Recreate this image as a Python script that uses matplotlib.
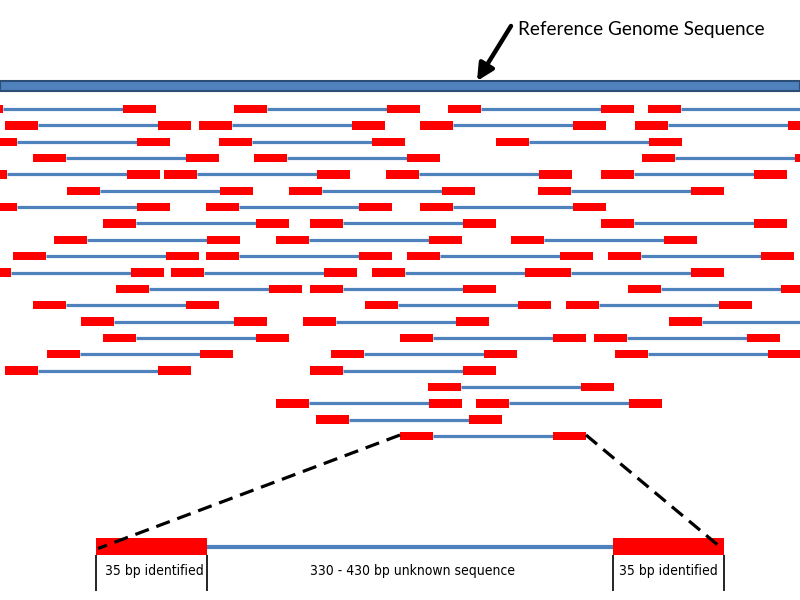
import matplotlib
matplotlib.use("Agg")
import matplotlib.pyplot as plt

# start position of every paired-end read, one list per row (top to bottom)
read_starts = [
    [-30, 234, 448, 648],
    [5, 199, 420, 635],
    [-16, 219, 496],
    [33, 254, 642],
    [-26, 164, 386, 601],
    [67, 289, 538],
    [-16, 206, 420],
    [103, 310, 601],
    [54, 276, 511],
    [13, 206, 407, 608],
    [-22, 171, 372, 538],
    [116, 310, 628],
    [33, 365, 566],
    [81, 303, 669],
    [103, 400, 594],
    [47, 331, 615],
    [5, 310],
    [428],
    [276, 476],
    [316],
    [400],
]
read_len = 186
tag_len = 33
zoom_read = 400  # start of the read that is blown up below (last row)

title = "Reference Genome Sequence"
tag_label = "35 bp identified"
gap_label = "330 - 430 bp unknown sequence"

RED = "#ff0000"
BLUE = "#4f81bd"

fig = plt.figure(figsize=(8, 6), dpi=100)
ax = fig.add_axes([0, 0, 1, 1])
ax.set_xlim(0, 800)
ax.set_ylim(600, 0)
ax.axis("off")

# reference genome bar
ax.broken_barh([(0, 800)], (80.5, 10), facecolors=BLUE, edgecolors="#2c4d75", linewidth=1.5)
ax.annotate("", xy=(477, 81), xytext=(511, 26),
            arrowprops=dict(arrowstyle="-|>,head_length=1.0,head_width=0.5",
                            lw=3.2, color="black", shrinkA=0, shrinkB=0))
ax.text(518, 29, title, fontsize=13.6, family=["Lato", "DejaVu Sans"], va="center", ha="left")

# reads
row_y0, row_dy = 109, 16.35
for i, row in enumerate(read_starts):
    y = row_y0 + i * row_dy
    for s in row:
        ax.hlines(y, s + tag_len, s + read_len - tag_len, color=BLUE, lw=2.3, zorder=1)
        ax.broken_barh([(s, tag_len), (s + read_len - tag_len, tag_len)], (y - 4.2, 8.4),
                       facecolors=RED, zorder=2)

# blown-up read
big_l, big_r, big_tag = 96, 724, 111
big_y = 546.5
last_y = row_y0 + (len(read_starts) - 1) * row_dy
ax.hlines(big_y, big_l + big_tag, big_r - big_tag, color=BLUE, lw=3, zorder=1)
ax.broken_barh([(big_l, big_tag), (big_r - big_tag, big_tag)], (big_y - 8.5, 17),
               facecolors=RED, zorder=2)
ax.plot([zoom_read, big_l + 2], [last_y - 1, big_y + 2], color="black", lw=2.3,
        ls=(0, (4.5, 2.5)), zorder=3)
ax.plot([zoom_read + read_len, big_r - 2], [last_y - 1, big_y + 2], color="black", lw=2.3,
        ls=(0, (4.5, 2.5)), zorder=3)
for x in [big_l, big_l + big_tag, big_r - big_tag, big_r]:
    ax.vlines(x, big_y + 8.5, 591, color="black", lw=1.2)

narrow = dict(family="DejaVu Sans", fontstretch="condensed", fontsize=10, ha="center", va="center")
ax.text(big_l + big_tag / 2 + 3, 571, tag_label, **narrow)
ax.text(big_r - big_tag / 2, 571, tag_label, **narrow)
ax.text(413, 571, gap_label, **narrow)

fig.savefig("out.png", dpi=100)
